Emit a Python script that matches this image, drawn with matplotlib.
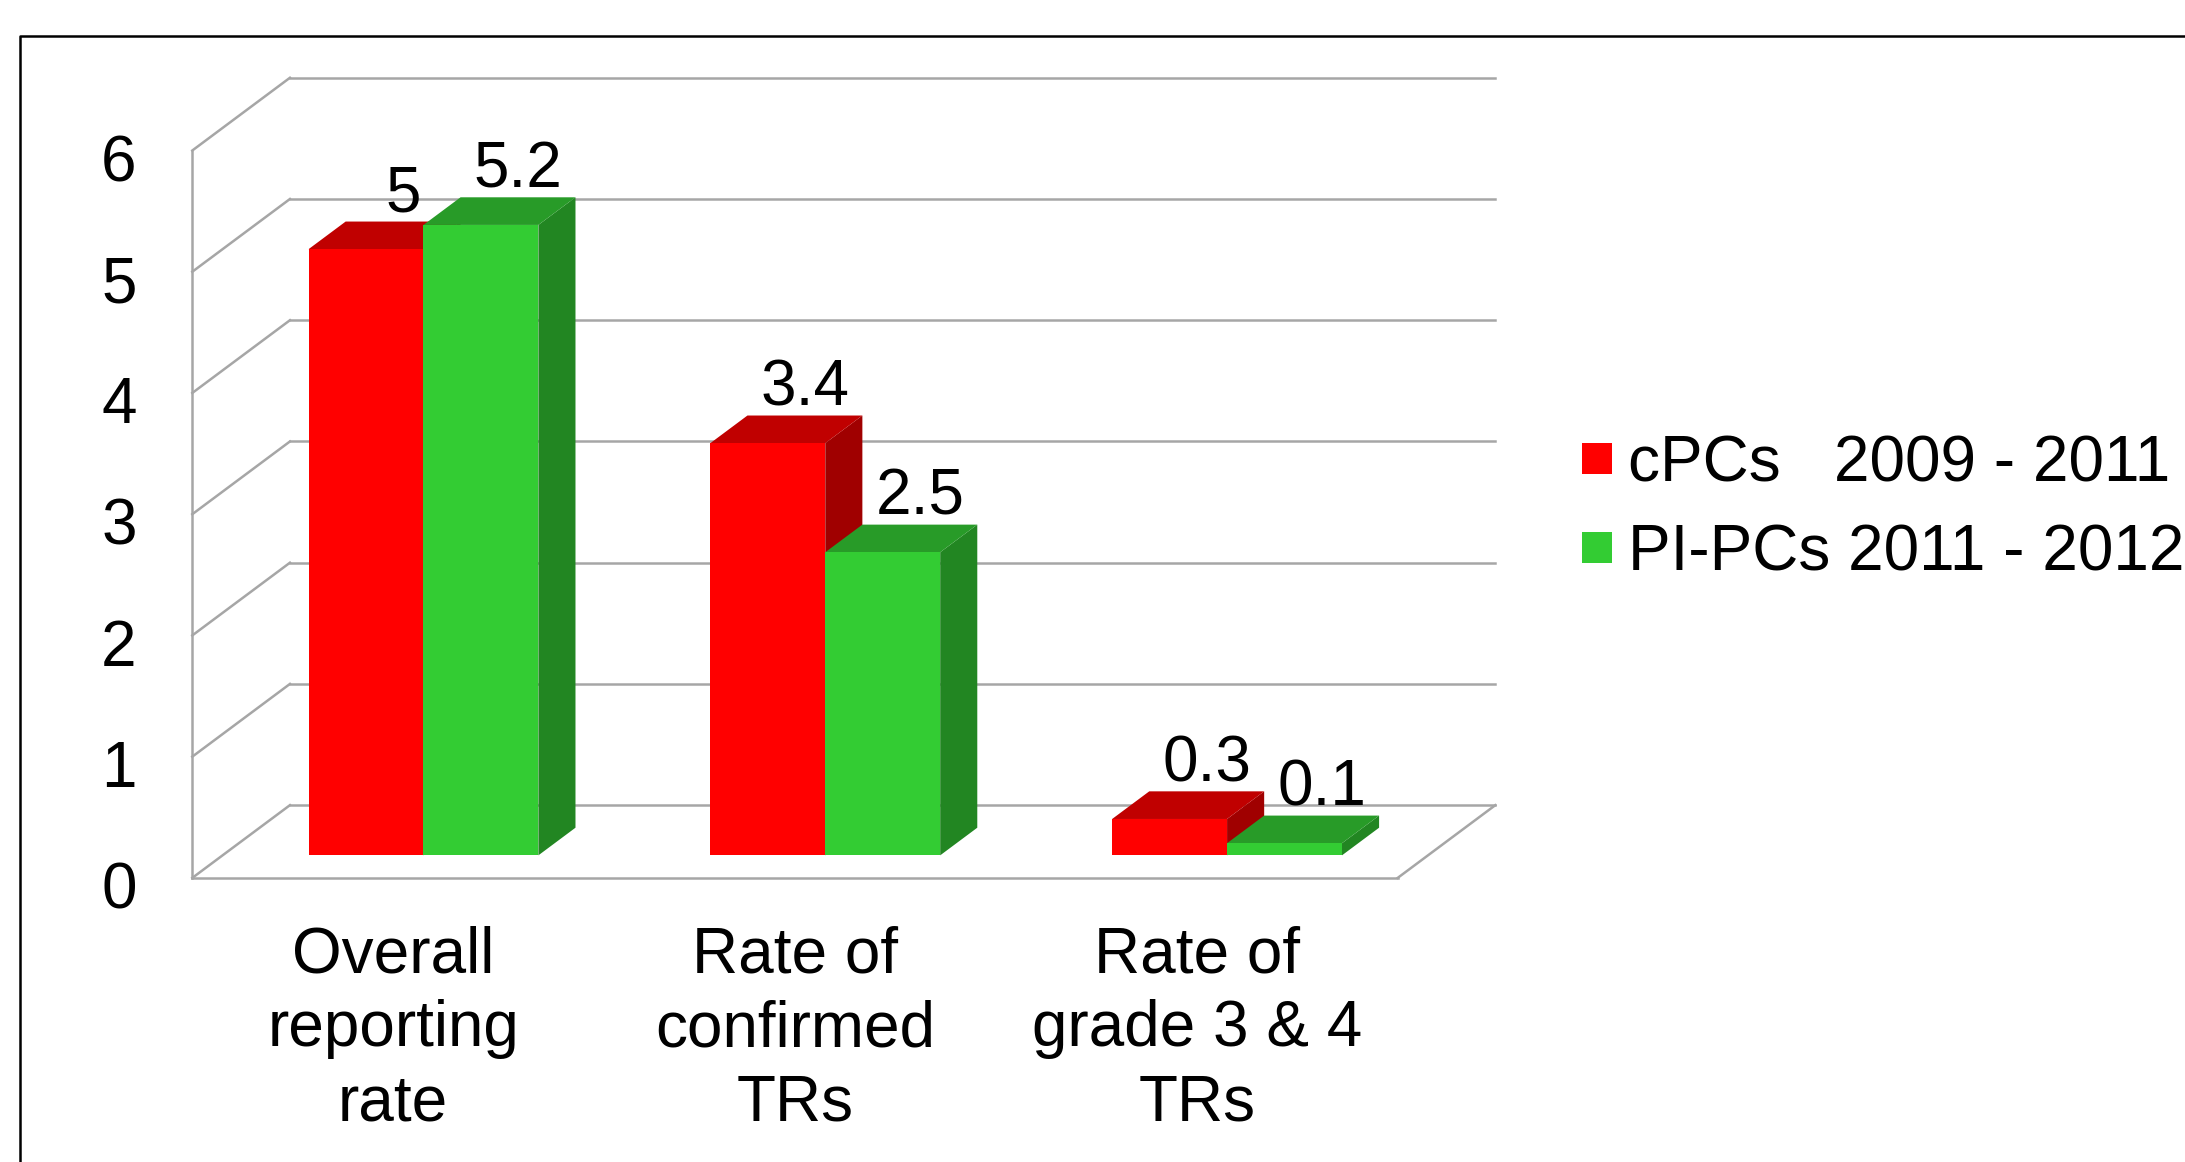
import matplotlib
matplotlib.use("Agg")
import matplotlib.pyplot as plt
from matplotlib.lines import Line2D
from matplotlib.patches import Rectangle
from matplotlib.transforms import ScaledTranslation

# ── data ────────────────────────────────────────────────────────────────
categories = ["Overall\nreporting\nrate", "Rate of\nconfirmed\nTRs", "Rate of\ngrade 3 & 4\nTRs"]
series_names = ["cPCs   2009 - 2011", "PI-PCs 2011 - 2012"]
cpcs_vals = [5, 3.4, 0.3]
pipcs_vals = [5.2, 2.5, 0.1]
y_ticks = [0, 1, 2, 3, 4, 5, 6]

# face colours: front, top, side
RED = ("#FF0000", "#C00000", "#A00000")
GREEN = ("#33CC33", "#289B28", "#228622")
GRID = "#A6A6A6"

W, H = 2185, 1162
plt.rcParams["font.family"] = ["Liberation Sans", "DejaVu Sans"]
FS = 46

fig = plt.figure(figsize=(W / 100, H / 100), dpi=100)
fig.patch.set_facecolor("white")

# front plane of the floor / axis (pixel positions of the reference)
x_l, x_r = 192.3, 1397.7
y_b, y_t = 877.9, 150.5
ax = fig.add_axes([x_l / W, 1 - y_b / H, (x_r - x_l) / W, (y_b - y_t) / H])
ax.set_xlim(-0.5, 2.5)
ax.set_ylim(0, 6)
ax.set_facecolor("none")

# 3-D depth (full depth of the floor) in data units
DX, DY = 0.243, 0.60
d_front, d_back = 0.31, 0.69
bar_w = 0.286

for s in ["top", "right"]:
    ax.spines[s].set_visible(False)
for s in ["left", "bottom"]:
    ax.spines[s].set_color(GRID)
    ax.spines[s].set_linewidth(1.8)
    ax.spines[s].set_zorder(1)

ax.set_yticks(y_ticks)
ax.set_yticklabels([str(t) for t in y_ticks], fontsize=FS)
ax.set_xticks(range(len(categories)))
ax.set_xticklabels(categories, fontsize=FS, linespacing=1.3)
ax.tick_params(axis="y", length=0, pad=40)
ax.tick_params(axis="x", length=0, pad=34)
shift = ScaledTranslation(0, -0.07, fig.dpi_scale_trans)
for lab in ax.get_yticklabels():
    lab.set_transform(lab.get_transform() + shift)

# walls: side diagonals and back gridlines
for t in y_ticks:
    ax.plot([-0.5, -0.5 + DX], [t, t + DY], color=GRID, lw=1.8, clip_on=False, zorder=1)
    ax.plot([-0.5 + DX, 2.5 + DX], [t + DY, t + DY], color=GRID, lw=1.8, clip_on=False, zorder=1)
# right edge of the floor
ax.plot([2.5, 2.5 + DX], [0, DY], color=GRID, lw=1.8, clip_on=False, zorder=1)


def draw_bar(x0, x1, v, cols):
    front, top, side = cols
    a = d_front
    b = d_back
    fx0, fx1 = x0 + a * DX, x1 + a * DX
    bx0, bx1 = x0 + b * DX, x1 + b * DX
    ay, by = a * DY, b * DY
    ax.fill([x1 + a * DX, bx1, bx1, fx1], [ay, by, v + by, v + ay],
            color=side, lw=0, clip_on=False, zorder=3)
    ax.fill([fx0, fx1, bx1, bx0], [v + ay, v + ay, v + by, v + by],
            color=top, lw=0, clip_on=False, zorder=3)
    ax.fill([fx0, fx1, fx1, fx0], [ay, ay, v + ay, v + ay],
            color=front, lw=0, clip_on=False, zorder=3)
    ax.annotate(f"{v:g}", ((x0 + x1) / 2 + b * DX, v + by), xytext=(0, -2),
                textcoords="offset points", ha="center", va="bottom",
                fontsize=FS, zorder=5, annotation_clip=False)


for i in range(len(categories)):
    draw_bar(i - bar_w, i, cpcs_vals[i], RED)
    draw_bar(i, i + bar_w, pipcs_vals[i], GREEN)

# legend (drawn by hand to match the reference placement)
sq = 30.7
for k, (name, col) in enumerate(zip(series_names, [RED[0], GREEN[0]])):
    cy = [458.5, 547.6][k]
    fig.patches.append(Rectangle((1581.6 / W, 1 - (cy + sq / 2) / H), sq / W, sq / H,
                                 transform=fig.transFigure, color=col, lw=0))
    fig.text(1627.6 / W, 1 - (cy + 23) / H, name, fontsize=FS, va="baseline", ha="left")

# outer frame (top and left only are visible in the reference)
fig.lines.append(Line2D([19.5 / W, 19.5 / W, 1.0], [0.0, 1 - 36 / H, 1 - 36 / H],
                        transform=fig.transFigure, color="black", lw=1.8))

fig.savefig("out.png", dpi=100)
